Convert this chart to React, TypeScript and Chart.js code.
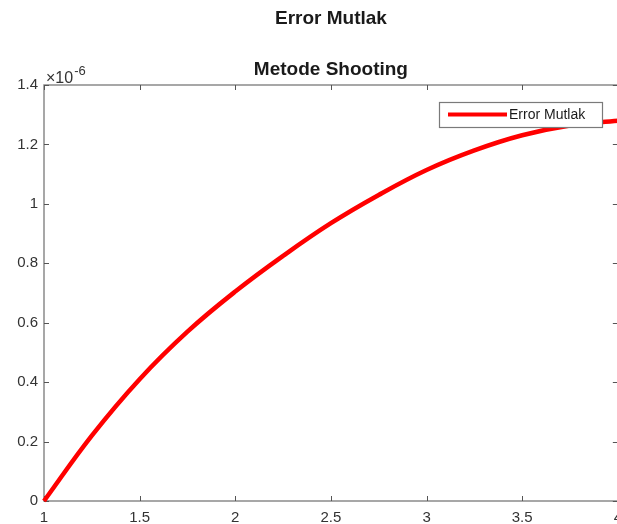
import React, { useEffect, useRef } from "react";
import { Chart, registerables } from "chart.js";

Chart.register(...registerables);

// Data (y values in units of 1e-6)
const xValues = [1, 1.25, 1.5, 1.75, 2, 2.25, 2.5, 2.75, 3, 3.25, 3.5, 3.75, 4];
const errorValuesE6 = [0, 0.22, 0.41, 0.57, 0.705, 0.825, 0.935, 1.03, 1.114, 1.18, 1.231, 1.264, 1.28];
const xTicks = [1, 1.5, 2, 2.5, 3, 3.5, 4];
const yTicks = [0, 0.2, 0.4, 0.6, 0.8, 1, 1.2, 1.4];
const mainTitle = "Error Mutlak";
const subTitle = "Metode Shooting";
const seriesLabel = "Error Mutlak";
const exponentBase = "×10";
const exponentPower = "-6";

const FONT = "'Liberation Sans', Arial, Helvetica, sans-serif";
const AXIS_COLOR = "#8a8a8a";
const TEXT_COLOR = "#333333";
const LINE_COLOR = "#ff0000";

const framePlugin = {
  id: "matlabFrame",
  beforeDatasetsDraw(chart: any) {
    const { ctx, chartArea: a, scales } = chart;
    ctx.save();
    ctx.strokeStyle = AXIS_COLOR;
    ctx.lineWidth = 1.5;
    ctx.strokeRect(a.left, a.top, a.right - a.left, a.bottom - a.top);
    ctx.lineWidth = 1;
    ctx.strokeStyle = "#555555";
    const tl = 5;
    ctx.beginPath();
    for (const v of xTicks) {
      const px = Math.round(scales.x.getPixelForValue(v)) + 0.5;
      ctx.moveTo(px, a.bottom);
      ctx.lineTo(px, a.bottom - tl);
      ctx.moveTo(px, a.top);
      ctx.lineTo(px, a.top + tl);
    }
    for (const v of yTicks) {
      const py = Math.round(scales.y.getPixelForValue(v)) + 0.5;
      ctx.moveTo(a.left, py);
      ctx.lineTo(a.left + tl, py);
      ctx.moveTo(a.right, py);
      ctx.lineTo(a.right - tl, py);
    }
    ctx.stroke();
    ctx.restore();
  },
  afterDatasetsDraw(chart: any) {
    const { ctx, chartArea: a } = chart;
    ctx.save();
    // Titles
    const cx = (a.left + a.right) / 2;
    ctx.fillStyle = "#1a1a1a";
    ctx.textAlign = "center";
    ctx.textBaseline = "alphabetic";
    ctx.font = `bold 19px ${FONT}`;
    ctx.fillText(mainTitle, cx, 23.5);
    ctx.fillText(subTitle, cx, 75);
    // Exponent label
    ctx.fillStyle = TEXT_COLOR;
    ctx.textAlign = "left";
    ctx.font = `16px ${FONT}`;
    ctx.fillText(exponentBase, a.left + 2, a.top - 2);
    const w = ctx.measureText(exponentBase).width;
    ctx.font = `13px ${FONT}`;
    ctx.fillText(exponentPower, a.left + 2 + w + 1, a.top - 10);
    // Legend box
    const bx = 439.5, by = 102.5, bw = 163, bh = 25;
    ctx.fillStyle = "#ffffff";
    ctx.fillRect(bx, by, bw, bh);
    ctx.strokeStyle = "#7a7a7a";
    ctx.lineWidth = 1.2;
    ctx.strokeRect(bx, by, bw, bh);
    ctx.strokeStyle = LINE_COLOR;
    ctx.lineWidth = 4;
    ctx.beginPath();
    ctx.moveTo(448, 114.5);
    ctx.lineTo(507, 114.5);
    ctx.stroke();
    ctx.fillStyle = "#1a1a1a";
    ctx.font = `14px ${FONT}`;
    ctx.textBaseline = "middle";
    ctx.fillText(seriesLabel, 509, 115);
    ctx.restore();
  },
};

export default function App() {
  const ref = useRef<HTMLCanvasElement | null>(null);

  useEffect(() => {
    if (!ref.current) return;
    const chart = new Chart(ref.current, {
      type: "line",
      data: {
        datasets: [
          {
            label: seriesLabel,
            data: xValues.map((x, i) => ({ x, y: errorValuesE6[i] })),
            borderColor: LINE_COLOR,
            backgroundColor: LINE_COLOR,
            borderWidth: 4.5,
            pointRadius: 0,
            tension: 0.4,
            clip: 6,
          } as any,
        ],
      },
      options: {
        responsive: false,
        animation: false,
        layout: { padding: { top: 85, right: 11, left: 0, bottom: 0 } },
        plugins: {
          legend: { display: false },
          title: { display: false },
          tooltip: { enabled: false },
        },
        scales: {
          x: {
            type: "linear",
            min: 1,
            max: 4,
            afterBuildTicks: (s: any) => {
              s.ticks = xTicks.map((v) => ({ value: v }));
            },
            afterFit: (s: any) => {
              s.height = 23;
            },
            grid: { display: false, drawTicks: false },
            border: { display: false },
            ticks: {
              autoSkip: false,
              maxRotation: 0,
              padding: 8,
              color: TEXT_COLOR,
              font: { family: FONT, size: 15 },
              callback: (v: any) => String(v),
            },
          },
          y: {
            type: "linear",
            min: 0,
            max: 1.4,
            afterBuildTicks: (s: any) => {
              s.ticks = yTicks.map((v) => ({ value: v }));
            },
            afterFit: (s: any) => {
              s.width = 44;
            },
            grid: { display: false, drawTicks: false },
            border: { display: false },
            ticks: {
              autoSkip: false,
              padding: 6,
              color: TEXT_COLOR,
              font: { family: FONT, size: 15 },
              callback: (v: any) => String(Number(Number(v).toFixed(1))),
            },
          },
        },
      },
      plugins: [framePlugin],
    });
    return () => chart.destroy();
  }, []);

  return (
    <div
      style={{
        position: "fixed",
        left: 0,
        top: 0,
        width: 617,
        height: 524,
        overflow: "hidden",
        background: "#ffffff",
      }}
    >
      <canvas ref={ref} width={630} height={524} style={{ display: "block" }} />
    </div>
  );
}
